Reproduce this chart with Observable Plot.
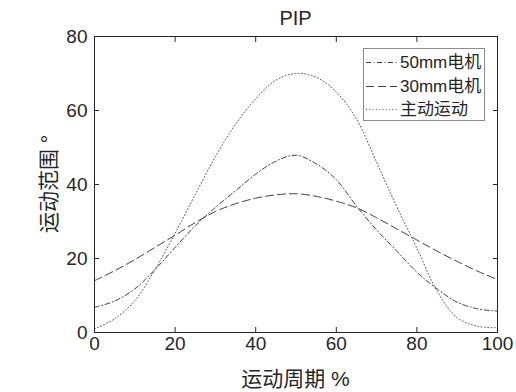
<!DOCTYPE html>
<html><head><meta charset="utf-8">
<script src="https://cdn.jsdelivr.net/npm/d3@7"></script>
<script src="https://cdn.jsdelivr.net/npm/@observablehq/plot@0.6"></script>
<style>
html,body{margin:0;padding:0;background:#fff;}
#fig{position:relative;width:516px;height:392px;font-family:"Liberation Sans",Arial,"Noto Sans CJK SC",sans-serif;color:#262626;overflow:hidden;}
#fig > svg{position:absolute;left:0;top:0;}
.ov{position:absolute;white-space:nowrap;line-height:1;}
#title{left:0;width:591px;text-align:center;top:8px;font-size:20px;}
#xlabel{left:0;width:591px;text-align:center;top:368px;font-size:21px;}
#ylabel{left:48px;top:184px;font-size:21px;transform:translate(-50%,-50%) rotate(-90deg);}
#legend{left:363px;top:48px;width:122px;height:73px;border:1px solid #8c8c8c;background:#fff;box-sizing:border-box;}
#legend .row{position:absolute;left:0;height:20px;display:flex;align-items:center;font-size:17px;}
#legend .row svg{position:static;display:block;margin-left:2px;margin-right:3px;}
</style></head><body><div id="fig"></div>
<script>
const cyclePct = [0,5,10,15,20,25,30,35,40,45,50,55,60,65,70,75,80,85,90,95,100];
const motor50 = [6.8,8.5,11.8,17,23,28.8,33.8,38.3,42.8,46.3,47.9,45.6,41.3,34.2,27.7,22,16.3,11.8,8.2,6.4,5.8];
const motor30 = [14,16.7,19.7,23,26.3,29.7,32.7,34.8,36.3,37.2,37.5,36.8,35.5,33.7,31,28,25,22,19.2,16.6,14.3];
const activeMotion = [1.0,3.7,8.6,17,26.8,37.3,47.5,56.3,63.2,68.2,70,69,65,57.7,46,34,22.8,11.2,4.0,1.7,1.3];
const seriesNames = ["50mm电机","30mm电机","主动运动"];
const xTicks = [0,20,40,60,80,100];
const yTicks = [0,20,40,60,80];
const titleText = "PIP";
const xLabelText = "运动周期 %";
const yLabelText = "运动范围 °";

const seriesStyle = [
  {stroke:"#2a2a2a", dash:"5,2.5,1,2.5", width:0.9},
  {stroke:"#2a2a2a", dash:"8,4", width:0.9},
  {stroke:"#5a5a5a", dash:"1,2.3", width:1}
];
const seriesValues = [motor50, motor30, activeMotion];
const rows = seriesValues.map((vals, s) => cyclePct.map((x, i) => ({series: seriesNames[s], x, y: vals[i]})));

const font = '"Liberation Sans",Arial,"Noto Sans CJK SC",sans-serif';
const blank = () => "";
const plot = Plot.plot({
  width: 516, height: 392,
  marginLeft: 94, marginRight: 19, marginTop: 36, marginBottom: 60,
  x: {domain: [0, 100]},
  y: {domain: [0, 80]},
  style: {fontSize: "19px", fontFamily: font, color: "#262626", background: "transparent", overflow: "visible"},
  marks: [
    ...rows.map((r, s) => Plot.line(r, {x: "x", y: "y", curve: "catmull-rom",
      stroke: seriesStyle[s].stroke, strokeWidth: seriesStyle[s].width, strokeDasharray: seriesStyle[s].dash})),
    Plot.frame({stroke: "#262626", strokeWidth: 1}),
    Plot.axisX(xTicks, {tickSize: 0, tickPadding: 4, label: null, fontSize: 19}),
    Plot.axisX(xTicks, {tickSize: -5, tickFormat: blank, label: null}),
    Plot.axisX(xTicks, {anchor: "top", tickSize: -5, tickFormat: blank, label: null}),
    Plot.axisY(yTicks, {tickSize: 0, tickPadding: 7, label: null, fontSize: 19}),
    Plot.axisY(yTicks, {tickSize: -5, tickFormat: blank, label: null}),
    Plot.axisY(yTicks, {anchor: "right", tickSize: -5, tickFormat: blank, label: null})
  ]
});

const fig = document.getElementById("fig");
fig.appendChild(plot);
function addDiv(id, text){ const d = document.createElement("div"); d.className = "ov"; d.id = id; d.textContent = text; fig.appendChild(d); return d; }
addDiv("title", titleText);
addDiv("xlabel", xLabelText);
addDiv("ylabel", yLabelText);
const leg = document.createElement("div"); leg.className = "ov"; leg.id = "legend"; fig.appendChild(leg);
const rowTops = [3, 27, 50];
seriesNames.forEach((name, s) => {
  const r = document.createElement("div"); r.className = "row"; r.style.top = rowTops[s] + "px";
  const st = seriesStyle[s];
  r.innerHTML = `<svg width="31" height="10"><line x1="0" y1="5.5" x2="31" y2="5.5" stroke="${st.stroke}" stroke-width="${st.width}" stroke-dasharray="${st.dash}"/></svg><span>${name}</span>`;
  leg.appendChild(r);
});
</script>
</body></html>
